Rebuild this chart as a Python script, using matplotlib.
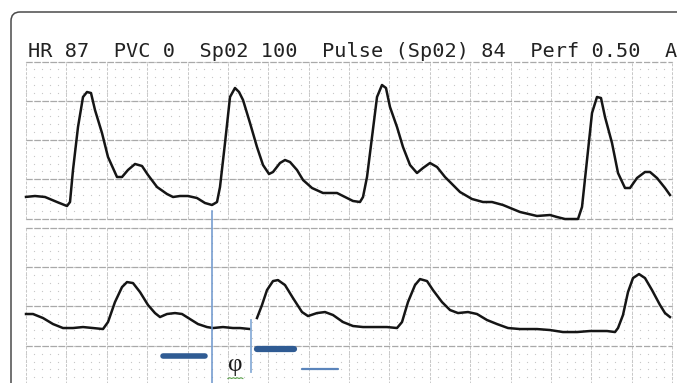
import numpy as np
import matplotlib
matplotlib.use("Agg")
import matplotlib.pyplot as plt
from matplotlib.patches import FancyBboxPatch
import matplotlib.transforms as mtransforms

# header printed on the strip
header = "HR 87  PVC 0  Sp02 100  Pulse (Sp02) 84  Perf 0.50  A"

# upper trace (x in major divisions, y in major divisions)
top_x = [0.0, 0.223, 0.471, 0.768, 1.015, 1.090, 1.164, 1.288, 1.412, 1.511, 1.610, 1.709,
         1.882, 2.031, 2.254, 2.378, 2.526, 2.700, 2.873, 3.022, 3.245, 3.492, 3.641, 3.814,
         4.012, 4.235, 4.433, 4.607, 4.731, 4.805, 4.929, 5.053, 5.176, 5.276, 5.375, 5.548,
         5.721, 5.870, 6.019, 6.118, 6.291, 6.415, 6.539, 6.712, 6.861, 7.084, 7.356, 7.703,
         7.901, 8.099, 8.272, 8.347, 8.446, 8.570, 8.694, 8.817, 8.916, 9.015, 9.189, 9.337,
         9.511, 9.684, 9.833, 10.006, 10.180, 10.378, 10.502, 10.749, 11.046, 11.319, 11.542,
         11.814, 12.235, 12.656, 12.978, 13.152, 13.350, 13.672, 13.771, 13.895, 14.019,
         14.142, 14.241, 14.341, 14.514, 14.663, 14.836, 14.960, 15.133, 15.331, 15.455,
         15.628, 15.827, 15.950]
top_y = [0.55, 0.573, 0.548, 0.420, 0.318, 0.420, 1.236, 2.331, 3.096, 3.223, 3.197, 2.764,
         2.178, 1.567, 1.057, 1.057, 1.236, 1.389, 1.338, 1.108, 0.803, 0.624, 0.548, 0.573,
         0.573, 0.522, 0.395, 0.344, 0.420, 0.803, 1.924, 3.096, 3.325, 3.223, 3.019, 2.433,
         1.822, 1.363, 1.134, 1.185, 1.414, 1.490, 1.439, 1.236, 0.981, 0.777, 0.650, 0.650,
         0.548, 0.446, 0.420, 0.548, 1.057, 2.076, 3.096, 3.401, 3.325, 2.841, 2.331, 1.822,
         1.363, 1.159, 1.287, 1.414, 1.312, 1.057, 0.930, 0.675, 0.497, 0.420, 0.420,
         0.344, 0.166, 0.064, 0.089, 0.038, -0.013, -0.013, 0.293, 1.490, 2.688,
         3.096, 3.070, 2.586, 1.924, 1.159, 0.777, 0.777, 1.032, 1.185, 1.185,
         1.032, 0.777, 0.599]

# lower trace, nan marks the break in the print
low_x = [0.0, 0.173, 0.421, 0.669, 0.916, 1.164, 1.412, 1.659, 1.907, 2.031, 2.204, 2.378,
         2.502, 2.650, 2.824, 3.022, 3.195, 3.319, 3.492, 3.690, 3.864, 4.062, 4.260, 4.483,
         4.632, 4.879, 5.127, 5.300, 5.548, np.nan, 5.721, 5.845, 5.969, 6.118, 6.241, 6.415,
         6.613, 6.836, 6.985, 7.207, 7.406, 7.604, 7.851, 8.099, 8.347, 8.594, 8.941, 9.189,
         9.313, 9.461, 9.635, 9.759, 9.932, 10.080, 10.303, 10.502, 10.700, 10.947, 11.170,
         11.418, 11.666, 11.938, 12.235, 12.656, 12.978, 13.300, 13.647, 13.969, 14.390,
         14.588, 14.663, 14.786, 14.910, 15.034, 15.183, 15.331, 15.505, 15.703, 15.827, 15.950]
low_y = [1.808, 1.808, 1.706, 1.553, 1.452, 1.452, 1.477, 1.452, 1.426, 1.604, 2.112, 2.492,
         2.619, 2.594, 2.365, 2.036, 1.832, 1.731, 1.808, 1.832, 1.808, 1.680, 1.553, 1.477,
         1.452, 1.477, 1.452, 1.452, 1.426, np.nan, 1.706, 2.036, 2.416, 2.645, 2.670, 2.543,
         2.213, 1.858, 1.756, 1.832, 1.858, 1.782, 1.604, 1.503, 1.477, 1.477, 1.477, 1.452,
         1.604, 2.112, 2.543, 2.695, 2.645, 2.416, 2.112, 1.909, 1.832, 1.858, 1.808,
         1.655, 1.553, 1.452, 1.426, 1.426, 1.401, 1.350, 1.350, 1.376, 1.376,
         1.350, 1.452, 1.782, 2.365, 2.721, 2.822, 2.721, 2.416, 2.036, 1.832, 1.731]

# blue markup (lower strip units)
vline_a = (4.607, 4.42, -0.2)
vline_b = (5.573, 1.655, 0.335)
bars = [(3.393, 4.433, 0.749, 4.0, "#2f5b93"),
        (5.721, 6.638, 0.911, 4.5, "#2f5b93"),
        (6.836, 7.728, 0.411, 1.6, "#5a84bb")]
phi_pos = (5.176, 0.52)

W, H = 677, 383
fig = plt.figure(figsize=(W / 100, H / 100), dpi=100)
fig.patch.set_facecolor("white")

# rounded frame of the figure panel
frame = FancyBboxPatch((11, -30), 720, H - 12 + 30,
                       boxstyle="round,pad=0,rounding_size=9",
                       transform=mtransforms.IdentityTransform(),
                       fc="none", ec="#4a4a4a", lw=1.1, zorder=5)
fig.patches.append(frame)

fig.text(28 / W, 1 - 57 / H, header, family="DejaVu Sans Mono", fontsize=14.6,
         color="#222222", va="baseline", ha="left")

ax1 = fig.add_axes([26 / W, 1 - 218.5 / H, 646 / W, 157 / H])
ax2 = fig.add_axes([26 / W, 1 - 385.2 / H, 646 / W, 157.5 / H])

minor = np.arange(0, 16.01, 0.2)
minor_y = np.arange(0, 4.01, 0.2)
mx, my = np.meshgrid(minor, minor_y)
for ax in (ax1, ax2):
    ax.set_xlim(0, 16)
    ax.set_ylim(0, 4)
    ax.axis("off")
    ax.patch.set_alpha(0)
    ax.scatter(mx.ravel(), my.ravel(), s=0.8, c="#c6c6c6", lw=0, clip_on=False)
    for v in range(17):
        ax.axvline(v, color="#c8c8c8", lw=0.7, ls=(0, (3, 1.5)), clip_on=False)
    for h in range(5):
        ax.axhline(h, color="#a9a9a9", lw=0.9, ls=(0, (5, 1.5)), clip_on=False)

ax1.plot(top_x, top_y, color="#151515", lw=1.8, solid_joinstyle="round", clip_on=False)
ax2.plot(low_x, low_y, color="#151515", lw=1.8, solid_joinstyle="round", clip_on=False)

ax2.plot([vline_a[0]] * 2, vline_a[1:], color="#6b95cc", lw=1.1, clip_on=False)
ax2.plot([vline_b[0]] * 2, vline_b[1:], color="#8aaed8", lw=1.3, clip_on=False)
for x0, x1, y, w, c in bars:
    ax2.plot([x0, x1], [y, y], color=c, lw=w, solid_capstyle="round", clip_on=False)
ax2.text(phi_pos[0], phi_pos[1], "\u03c6", family="Liberation Serif", fontsize=18,
         ha="center", va="center", color="#1a1a1a")
sq = np.linspace(5.0, 5.37, 9)
ax2.plot(sq, 0.17 + 0.02 * (np.arange(9) % 2), color="#5aa04a", lw=0.8)

fig.savefig("out.png", dpi=100)
